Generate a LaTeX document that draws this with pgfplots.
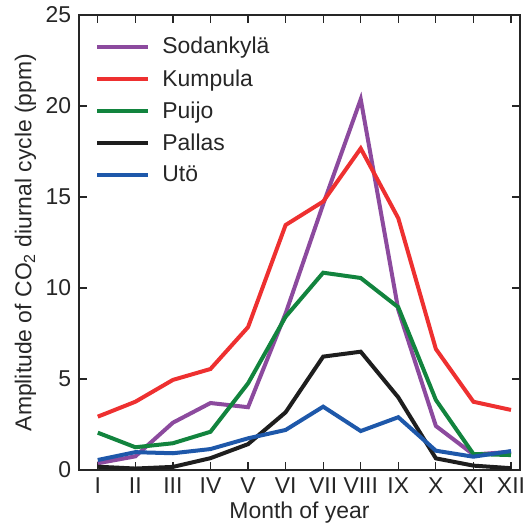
\documentclass[border=0pt]{standalone}
\usepackage{fontspec}
\setmainfont{Liberation Sans}
\usepackage{pgfplots}
\pgfplotsset{compat=1.18}
\definecolor{cpurple}{RGB}{140,74,158}
\definecolor{cred}{RGB}{238,48,48}
\definecolor{cgreen}{RGB}{18,132,62}
\definecolor{cblack}{RGB}{30,30,30}
\definecolor{cblue}{RGB}{30,88,170}
\begin{document}
\fontsize{23}{27}\selectfont
\begin{tikzpicture}
\path[use as bounding box] (0,0) rectangle (527bp,528bp);
\begin{axis}[
  at={(79bp,58bp)}, anchor=south west,
  scale only axis, width=441bp, height=455bp,
  xmin=0.5, xmax=12.24, ymin=0, ymax=25,
  xtick={1,2,3,4,5,6,7,8,9,10,11,12},
  xticklabels={I,II,III,IV,V,VI,VII,VIII,IX,X,XI,XII},
  ytick={0,5,10,15,20,25},
  tick align=inside,
  major tick length=8bp,
  tick style={line width=1.2bp, color=black!85},
  axis line style={line width=1.2bp, color=black!85},
  /pgf/number format/assume math mode=true,
  ticklabel style={font=\fontsize{23}{27}\selectfont, color=black!85},
  label style={font=\fontsize{23}{27}\selectfont, color=black!85},
  xlabel={Month of year},
  ylabel={Amplitude of CO\textsubscript{2} diurnal cycle (ppm)},
  xlabel style={yshift=7bp},
  ylabel style={yshift=-6bp},
  legend cell align=left,
  legend style={draw=none, fill=none, at={(0.03,0.96)}, anchor=north west,
    font=\fontsize{23}{27}\selectfont, row sep=8bp,
    nodes={text=black!85}},
  legend image code/.code={\draw[#1, line width=4bp] (0bp,0bp) -- (51bp,0bp);
    \path (61bp,0bp);},
  every axis plot/.append style={line width=4bp},
]
\addplot[cpurple, mark=none] coordinates {(1,0.37) (2,0.75) (3,2.6) (4,3.68) (5,3.45) (6,8.6) (7,14.6) (8,20.37) (9,8.8) (10,2.42) (11,0.85) (12,1.0)};
\addlegendentry{Sodankylä}
\addplot[cred, mark=none] coordinates {(1,2.93) (2,3.75) (3,4.95) (4,5.55) (5,7.85) (6,13.46) (7,14.75) (8,17.67) (9,13.83) (10,6.65) (11,3.75) (12,3.3)};
\addlegendentry{Kumpula}
\addplot[cgreen, mark=none] coordinates {(1,2.05) (2,1.25) (3,1.47) (4,2.1) (5,4.76) (6,8.42) (7,10.84) (8,10.55) (9,8.94) (10,3.85) (11,0.88) (12,0.82)};
\addlegendentry{Puijo}
\addplot[cblack, mark=none] coordinates {(1,0.18) (2,0.08) (3,0.17) (4,0.65) (5,1.42) (6,3.17) (7,6.23) (8,6.5) (9,3.99) (10,0.64) (11,0.24) (12,0.1)};
\addlegendentry{Pallas}
\addplot[cblue, mark=none] coordinates {(1,0.55) (2,0.98) (3,0.92) (4,1.15) (5,1.74) (6,2.2) (7,3.48) (8,2.14) (9,2.9) (10,1.06) (11,0.73) (12,1.04)};
\addlegendentry{Utö}
\end{axis}
\end{tikzpicture}
\end{document}
